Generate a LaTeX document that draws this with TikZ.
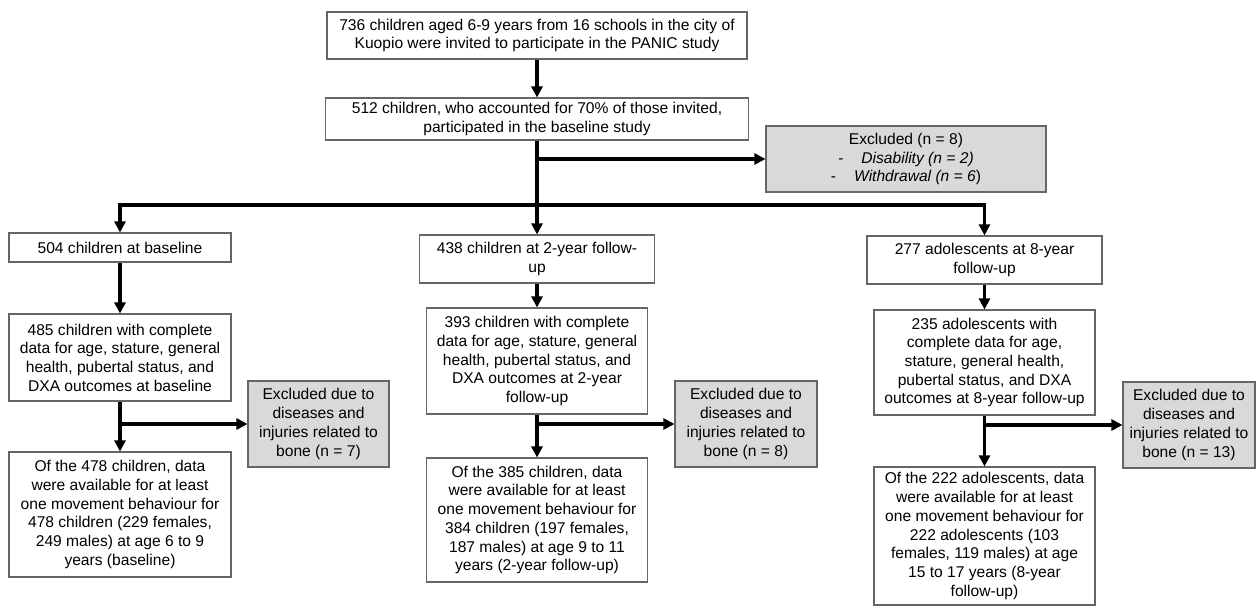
\documentclass[tikz,border=0pt]{standalone}
\usepackage{fontspec}
\setmainfont{Liberation Sans}
\usetikzlibrary{arrows.meta}
\definecolor{boxgray}{HTML}{666666}
\definecolor{exgray}{HTML}{D9D9D9}
\begin{document}
\begin{tikzpicture}[x=1bp,y=-1bp,
  box/.style={draw=boxgray, line width=1.1bp, fill=white, align=center, inner sep=2bp,
    font=\fontsize{15.6bp}{18.7bp}\selectfont},
  exbox/.style={box, fill=exgray},
  conn/.style={line width=3.2bp, line join=miter, -{Triangle[length=11bp,width=11bp]}},
]
\useasboundingbox (0,0) rectangle (1256,607);
% top
\node[box, minimum width=420bp, minimum height=47bp] (b1) at (537,35.5)
  {736 children aged 6-9 years from 16 schools in the city of\\Kuopio were invited to participate in the PANIC study};
\node[box, minimum width=423bp, minimum height=42bp] (b2) at (537,119)
  {512 children, who accounted for 70\% of those invited,\\participated in the baseline study};
\node[exbox, minimum width=280bp, minimum height=66bp] (ex1) at (906,159)
  {Excluded (n = 8)\\-\hspace{18bp}\textit{Disability (n = 2)}\\-\hspace{18bp}\textit{Withdrawal (n = 6})};
% left column
\node[box, minimum width=222bp, minimum height=29bp] (a1) at (120,247.5)
  {504 children at baseline};
\node[box, minimum width=222bp, minimum height=87bp] (a2) at (120,357.5)
  {485 children with complete\\data for age, stature, general\\health, pubertal status, and\\DXA outcomes at baseline};
\node[exbox, minimum width=141bp, minimum height=86bp] (ax) at (318.5,424)
  {Excluded due to\\diseases and\\injuries related to\\bone (n = 7)};
\node[box, minimum width=222bp, minimum height=125bp] (a3) at (120,514.5)
  {Of the 478 children, data\\were available for at least\\one movement behaviour for\\478 children (229 females,\\249 males) at age 6 to 9\\years (baseline)};
% middle column
\node[box, minimum width=235bp, minimum height=48bp] (m1) at (537,259)
  {438 children at 2-year follow-\\up};
\node[box, minimum width=221bp, minimum height=106bp] (m2) at (537,361)
  {393 children with complete\\data for age, stature, general\\health, pubertal status, and\\DXA outcomes at 2-year\\follow-up};
\node[exbox, minimum width=142bp, minimum height=86bp] (mx) at (746,424)
  {Excluded due to\\diseases and\\injuries related to\\bone (n = 8)};
\node[box, minimum width=221bp, minimum height=124bp] (m3) at (537,520)
  {Of the 385 children, data\\were available for at least\\one movement behaviour for\\384 children (197 females,\\187 males) at age 9 to 11\\years (2-year follow-up)};
% right column
\node[box, minimum width=235bp, minimum height=48bp] (r1) at (984.5,260)
  {277 adolescents at 8-year\\follow-up};
\node[box, minimum width=221bp, minimum height=105bp] (r2) at (984.5,362.5)
  {235 adolescents with\\complete data for age,\\stature, general health,\\pubertal status, and DXA\\outcomes at 8-year follow-up};
\node[exbox, minimum width=132bp, minimum height=86bp] (rx) at (1189,425)
  {Excluded due to\\diseases and\\injuries related to\\bone (n = 13)};
\node[box, minimum width=221bp, minimum height=138bp] (r3) at (984.5,536)
  {Of the 222 adolescents, data\\were available for at least\\one movement behaviour for\\222 adolescents (103\\females, 119 males) at age\\15 to 17 years (8-year\\follow-up)};
% connectors
\coordinate (hl) at (537,205);
\draw[conn] (b1.south) -- (b2.north);
\draw[conn] (b2.south) -- (m1.north);
\draw[conn] (b2.south |- ex1.west) -- (ex1.west);
\draw[conn] (hl) -| (a1.north);
\draw[conn] (hl) -| (r1.north);
\draw[conn] (a1.south) -- (a2.north);
\draw[conn] (a2.south) -- (a3.north);
\draw[conn] (a2.south |- ax.west) -- (ax.west);
\draw[conn] (m1.south) -- (m2.north);
\draw[conn] (m2.south) -- (m3.north);
\draw[conn] (m2.south |- mx.west) -- (mx.west);
\draw[conn] (r1.south) -- (r2.north);
\draw[conn] (r2.south) -- (r3.north);
\draw[conn] (r2.south |- rx.west) -- (rx.west);
\end{tikzpicture}
\end{document}
